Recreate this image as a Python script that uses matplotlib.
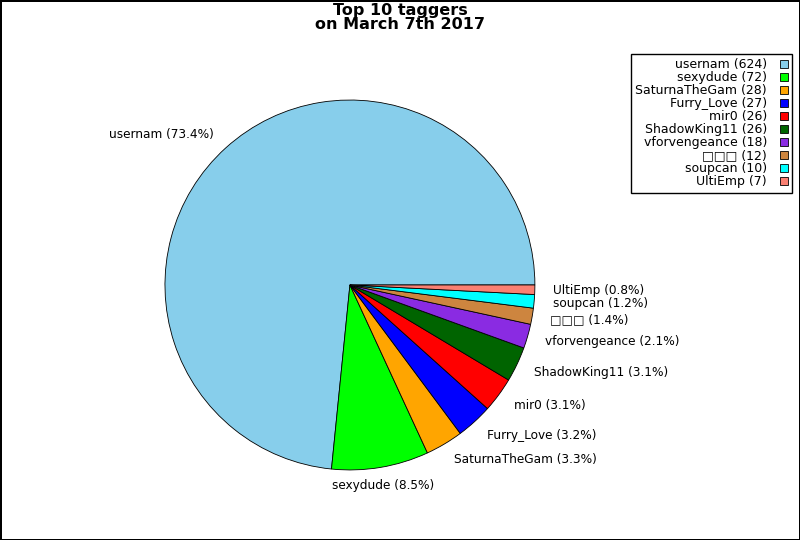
import matplotlib.pyplot as plt

# Dados
nomes = ["usernam", "sexydude", "SaturnaTheGam", "Furry_Love", "mir0",
         "ShadowKing11", "vforvengeance", "□□□", "soupcan", "UltiEmp"]
tags = [624, 72, 28, 27, 26, 26, 18, 12, 10, 7]
cores = ["skyblue", "lime", "orange", "blue", "red",
         "darkgreen", "blueviolet", "peru", "cyan", "salmon"]

total = sum(tags)
rotulos_pie = ["%s (%.1f%%)" % (n, 100.0 * t / total) for n, t in zip(nomes, tags)]
rotulos_leg = ["%s (%d)" % (n, t) for n, t in zip(nomes, tags)]

fig = plt.figure(figsize=(8, 5.4), dpi=100)
fig.patch.set_edgecolor("black")
fig.patch.set_linewidth(1)

ax = fig.add_axes([0.1484, 0.044, 0.578, 0.8565])
wedges, textos = ax.pie(tags, labels=rotulos_pie, colors=cores, startangle=0,
                        wedgeprops={"edgecolor": "black", "linewidth": 0.6},
                        textprops={"fontsize": 8.7})
ax.set_aspect("equal")
# rótulo do segundo setor fica centrado no original
textos[1].set_ha("center")

fig.text(0.5, 0.995, "Top 10 taggers\non March 7th 2017", ha="center", va="top",
         fontsize=11.5, fontweight="bold", linespacing=0.93)

leg = fig.legend(wedges, rotulos_leg, loc="upper right",
                 bbox_to_anchor=(792 / 800, 1 - 54 / 540), borderaxespad=0,
                 markerfirst=False, fancybox=False, edgecolor="black", framealpha=1,
                 fontsize=9, labelspacing=0.0, handlelength=0.65, handleheight=0.7,
                 handletextpad=1.0, borderpad=0.35)
leg.get_frame().set_linewidth(1)
for t in leg.get_texts():
    t.set_ha("right")

fig.savefig("out.png", dpi=100)
